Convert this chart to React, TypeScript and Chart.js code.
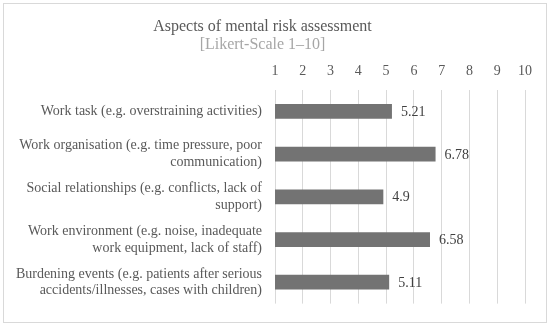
import React, { useEffect, useRef } from "react";
import { Chart, registerables } from "chart.js";

Chart.register(...registerables);

const categories: string[][] = [
  ["Work task (e.g. overstraining activities)"],
  ["Work organisation (e.g. time pressure, poor", "communication)"],
  ["Social relationships (e.g. conflicts, lack of", "support)"],
  ["Work environment (e.g. noise, inadequate", "work equipment, lack of staff)"],
  ["Burdening events (e.g. patients after serious", "accidents/illnesses, cases with children)"],
];
const values: number[] = [5.21, 6.78, 4.9, 6.58, 5.11];
const valueLabels: string[] = ["5.21", "6.78", "4.9", "6.58", "5.11"];
const titleText = "Aspects of mental risk assessment";
const subtitleText = "[Likert-Scale 1–10]";
const axisMin = 1;
const axisMax = 10;

const FONT = "'Liberation Serif', serif";

const valueLabelPlugin = {
  id: "valueLabels",
  afterDatasetsDraw(chart: any) {
    const ctx = chart.ctx;
    const meta = chart.getDatasetMeta(0);
    ctx.save();
    ctx.font = `14px ${FONT}`;
    ctx.fillStyle = "#404040";
    ctx.textAlign = "left";
    ctx.textBaseline = "middle";
    meta.data.forEach((bar: any, i: number) => {
      ctx.fillText(valueLabels[i], bar.x + 9, bar.y + 1);
    });
    ctx.restore();
  },
};

export default function App() {
  const ref = useRef<HTMLCanvasElement | null>(null);
  useEffect(() => {
    if (!ref.current) return;
    const chart = new Chart(ref.current, {
      type: "bar",
      data: {
        labels: categories,
        datasets: [
          {
            data: values,
            backgroundColor: "#737373",
            borderWidth: 0,
            barPercentage: 0.345,
            categoryPercentage: 1,
          },
        ],
      },
      options: {
        indexAxis: "y",
        animation: false,
        responsive: false,
        maintainAspectRatio: false,
        layout: { padding: { left: 0, right: 25, top: 0, bottom: 13 } },
        plugins: {
          legend: { display: false },
          tooltip: { enabled: false },
          title: {
            display: true,
            text: titleText,
            color: "#595959",
            font: { family: FONT, size: 16, weight: "normal", lineHeight: 1.1 },
            padding: { top: 18, bottom: 0 },
          },
          subtitle: {
            display: true,
            text: subtitleText,
            color: "#a6a6a6",
            font: { family: FONT, size: 16, weight: "normal", lineHeight: 1.1 },
            padding: { top: 0, bottom: 0 },
          },
        },
        scales: {
          x: {
            position: "top",
            min: axisMin,
            max: axisMax,
            ticks: {
              stepSize: 1,
              color: "#595959",
              font: { family: FONT, size: 14 },
              padding: 10,
            },
            grid: { color: "#d9d9d9", drawTicks: false, lineWidth: 1 },
            border: { display: false },
          },
          y: {
            afterFit: (scale: any) => {
              scale.width = 275;
            },
            ticks: {
              color: "#595959",
              font: { family: FONT, size: 14, lineHeight: 1.2 },
              padding: 13,
              autoSkip: false,
            },
            grid: { display: false, drawTicks: false },
            border: { display: false },
          },
        },
      },
      plugins: [valueLabelPlugin],
    });
    return () => chart.destroy();
  }, []);

  return (
    <div style={{ position: "fixed", left: 0, top: 0, width: 550, height: 325, background: "#fff" }}>
      <canvas ref={ref} width={550} height={325} style={{ position: "absolute", left: 0, top: 0 }} />
      <div
        style={{
          position: "absolute",
          left: 3,
          top: 3,
          width: 542,
          height: 318,
          border: "1px solid #d9d9d9",
          pointerEvents: "none",
        }}
      />
    </div>
  );
}
